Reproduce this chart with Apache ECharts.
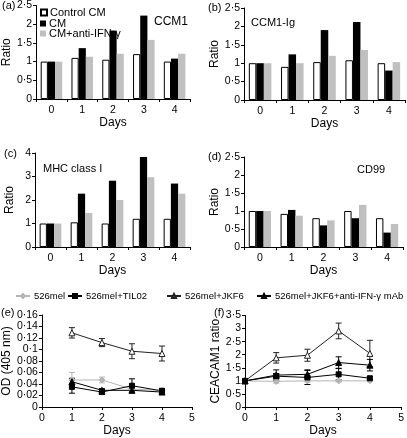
<!DOCTYPE html>
<html><head><meta charset="utf-8">
<script src="https://cdn.jsdelivr.net/npm/echarts@6/dist/echarts.min.js"></script>
<style>html,body{margin:0;padding:0;background:#fff}#c{width:407px;height:438px}</style>
</head><body><div id="c"></div>
<script>
// ---- data ----
const days = ['0', '1', '2', '3', '4'];
const barNames = ['Control CM', 'CM', 'CM+anti-IFN-γ'];
// (a) CCM1
const ccm1Control = [1.0, 1.1, 1.05, 1.2, 1.0];
const ccm1CM = [1.0, 1.36, 1.83, 2.23, 1.08];
const ccm1Anti = [1.0, 1.13, 1.21, 1.58, 1.21];
// (b) CCM1-Ig
const igControl = [1.0, 0.9, 1.03, 1.08, 1.0];
const igCM = [1.0, 1.24, 1.9, 2.12, 0.8];
const igAnti = [1.0, 1.0, 1.2, 1.36, 1.03];
// (c) MHC class I
const mhcControl = [1.0, 1.05, 1.0, 1.2, 1.2];
const mhcCM = [1.0, 2.27, 2.82, 3.83, 2.7];
const mhcAnti = [1.0, 1.45, 2.0, 2.97, 2.27];
// (d) CD99
const cd99Control = [1.0, 0.92, 0.8, 1.0, 0.8];
const cd99CM = [1.0, 1.03, 0.6, 0.8, 0.4];
const cd99Anti = [1.0, 0.87, 0.74, 1.17, 0.64];

const lineNames = ['526mel', '526mel+TIL02', '526mel+JKF6', '526mel+JKF6+anti-IFN-γ mAb'];
// (e) OD (405 nm), days 1-4
const odDays = [1, 2, 3, 4];
const odMel = [0.047, 0.047, 0.031, 0.029];
const odMelErr = [0.013, 0.005, 0.003, 0.004];
const odTil = [0.035, 0.026, 0.037, 0.028];
const odTilErr = [0.011, 0.004, 0.012, 0.004];
const odJkf = [0.129, 0.112, 0.097, 0.093];
const odJkfErr = [0.009, 0.007, 0.013, 0.013];
const odAnti = [0.044, 0.029, 0.029, 0.026];
const odAntiErr = [0.006, 0.003, 0.003, 0.004];
// (f) CEACAM1 ratio, days 0-4
const ceaDays = [0, 1, 2, 3, 4];
const ceaMel = [1.0, 0.98, 1.0, 1.0, 1.0];
const ceaMelErr = [0, 0.07, 0.04, 0.04, 0.04];
const ceaTil = [1.0, 1.18, 1.13, 1.25, 1.1];
const ceaTilErr = [0, 0.1, 0.27, 0.22, 0.06];
const ceaJkf = [1.0, 1.88, 1.98, 2.91, 2.05];
const ceaJkfErr = [0, 0.2, 0.23, 0.3, 0.5];
const ceaAnti = [1.0, 1.22, 1.25, 1.7, 1.6];
const ceaAntiErr = [0, 0.2, 0.17, 0.22, 0.22];

// ---- chart ----
const FONT = 'Liberation Sans, Arial, sans-serif';
const dot = v => String(v).replace('.', '·');
const axisLine = {show: true, lineStyle: {color: '#000', width: 1}};
const axisTick = {show: true, inside: false, length: 3, lineStyle: {color: '#000'}};
const axisLabel = {color: '#000', fontSize: 10.5, fontFamily: FONT, margin: 4};
const nameStyle = {color: '#000', fontSize: 12, fontFamily: FONT};

const grids = [
  {left: 36, right: 217, top: 5, bottom: 339},
  {left: 244, right: 2, top: 8, bottom: 338},
  {left: 35, right: 217, top: 153, bottom: 191},
  {left: 244, right: 4, top: 157, bottom: 191},
  {left: 36, right: 215, top: 315, bottom: 28},
  {left: 245, right: 5, top: 315.5, bottom: 28}
];

const xAxes = [], yAxes = [];
for (let i = 0; i < 4; i++) {
  xAxes.push({type: 'category', gridIndex: i, data: days, axisLine, axisTick,
    axisLabel: Object.assign({}, axisLabel, {margin: 6}),
    name: 'Days', nameLocation: 'middle', nameGap: 18, nameTextStyle: nameStyle});
  yAxes.push({type: 'value', gridIndex: i, min: 0, max: i === 2 ? 4 : 2.5, interval: i === 2 ? 1 : 0.5,
    axisLine, axisTick, splitLine: {show: false},
    axisLabel: Object.assign({}, axisLabel, {formatter: dot}),
    name: 'Ratio', nameLocation: 'middle', nameGap: i === 2 ? 19 : 23, nameTextStyle: nameStyle});
}
for (let i = 4; i < 6; i++) {
  xAxes.push({type: 'value', gridIndex: i, min: 0, max: 5, interval: 1, axisLine, axisTick,
    axisLabel: Object.assign({}, axisLabel, {margin: 6}),
    splitLine: {show: false},
    name: 'Days', nameLocation: 'middle', nameGap: 18, nameTextStyle: nameStyle});
}
yAxes.push({type: 'value', gridIndex: 4, min: 0, max: 0.16, interval: 0.02, axisLine, axisTick,
  splitLine: {show: false}, axisLabel: Object.assign({}, axisLabel, {formatter: dot}),
  name: 'OD (405 nm)', nameLocation: 'middle', nameGap: 25, nameTextStyle: nameStyle});
yAxes.push({type: 'value', gridIndex: 5, min: 0, max: 3.5, interval: 0.5, axisLine, axisTick,
  splitLine: {show: false}, axisLabel: Object.assign({}, axisLabel, {formatter: dot}),
  name: 'CEACAM1 ratio', nameLocation: 'middle', nameGap: 19, nameTextStyle: nameStyle});

const barStyles = [
  {color: '#fff', borderColor: '#000', borderWidth: 1},
  {color: '#000'},
  {color: '#c0c0c0'}
];
const barSets = [
  [ccm1Control, ccm1CM, ccm1Anti],
  [igControl, igCM, igAnti],
  [mhcControl, mhcCM, mhcAnti],
  [cd99Control, cd99CM, cd99Anti]
];
const series = [];
barSets.forEach((set, gi) => {
  set.forEach((vals, si) => {
    series.push({type: 'bar', name: barNames[si], xAxisIndex: gi, yAxisIndex: gi, data: vals,
      barGap: '0%', barCategoryGap: '30%', itemStyle: barStyles[si], silent: true});
  });
});

const lineStyles = [
  {color: '#b5b5b5', symbol: 'diamond', symbolSize: 6, fill: '#b5b5b5'},
  {color: '#000', symbol: 'rect', symbolSize: 5, fill: '#000'},
  {color: '#222', symbol: 'triangle', symbolSize: 6, fill: '#fff'},
  {color: '#000', symbol: 'triangle', symbolSize: 6, fill: '#000'}
];
function errSeries(gi, xs, vals, errs, color) {
  return {type: 'custom', xAxisIndex: gi, yAxisIndex: gi, silent: true, z: 1,
    data: xs.map((x, i) => [x, vals[i] - errs[i], vals[i] + errs[i]]),
    encode: {x: 0, y: [1, 2]},
    renderItem: (params, api) => {
      const lo = api.coord([api.value(0), api.value(1)]);
      const hi = api.coord([api.value(0), api.value(2)]);
      const w = 3, st = {stroke: color, lineWidth: 1};
      return {type: 'group', children: [
        {type: 'line', shape: {x1: lo[0], y1: lo[1], x2: hi[0], y2: hi[1]}, style: st},
        {type: 'line', shape: {x1: lo[0] - w, y1: lo[1], x2: lo[0] + w, y2: lo[1]}, style: st},
        {type: 'line', shape: {x1: hi[0] - w, y1: hi[1], x2: hi[0] + w, y2: hi[1]}, style: st}
      ]};
    }};
}
const lineSets = [
  [4, odDays, [[odMel, odMelErr], [odTil, odTilErr], [odJkf, odJkfErr], [odAnti, odAntiErr]]],
  [5, ceaDays, [[ceaMel, ceaMelErr], [ceaTil, ceaTilErr], [ceaJkf, ceaJkfErr], [ceaAnti, ceaAntiErr]]]
];
lineSets.forEach(([gi, xs, sets]) => {
  sets.forEach(([vals, errs], si) => {
    const s = lineStyles[si];
    series.push(errSeries(gi, xs, vals, errs, s.color));
    series.push({type: 'line', name: lineNames[si], xAxisIndex: gi, yAxisIndex: gi,
      data: xs.map((x, i) => [x, vals[i]]), symbol: s.symbol, symbolSize: s.symbolSize,
      showSymbol: true, silent: true, z: 3,
      lineStyle: {color: s.color, width: 1},
      itemStyle: {color: s.fill, borderColor: s.color, borderWidth: 1}});
  });
});

const txt = (left, top, text, size) => ({type: 'text', left, top,
  style: {text, fill: '#000', fontSize: size || 11, fontFamily: FONT}});

const barLegTops = [7, 18, 28];
const lineLegLefts = [15, 67, 166, 256];
const legends = [];
barNames.forEach((n, i) => legends.push({data: [n], left: 40, top: barLegTops[i], padding: 0,
  icon: 'rect', itemWidth: 6, itemHeight: 6, selectedMode: false, z: 10,
  textStyle: {fontSize: 11, fontFamily: FONT, color: '#000', padding: [0, 0, 0, -2]}}));
lineNames.forEach((n, i) => legends.push({data: [n], left: lineLegLefts[i], top: 291, padding: 0,
  itemWidth: 14, itemHeight: 5, selectedMode: false,
  textStyle: {fontSize: 9.5, fontFamily: FONT, color: '#000', padding: [0, 0, 0, -1]}}));

const option = {
  animation: false,
  backgroundColor: '#fff',
  textStyle: {fontFamily: FONT},
  grid: grids,
  xAxis: xAxes,
  yAxis: yAxes,
  series,
  legend: legends,
  graphic: [
    txt(2, 0, '(a)'), txt(208, 2, '(b)'), txt(4, 148, '(c)'), txt(208, 151, '(d)'),
    txt(1, 307, '(e)'), txt(214, 307, '(f)'),
    txt(154, 16, 'CCM1', 12), txt(251, 17, 'CCM1-Ig', 11), txt(43, 163, 'MHC class I', 11),
    txt(357, 164, 'CD99', 11)
  ]
};
echarts.init(document.getElementById('c')).setOption(option);
</script></body></html>
